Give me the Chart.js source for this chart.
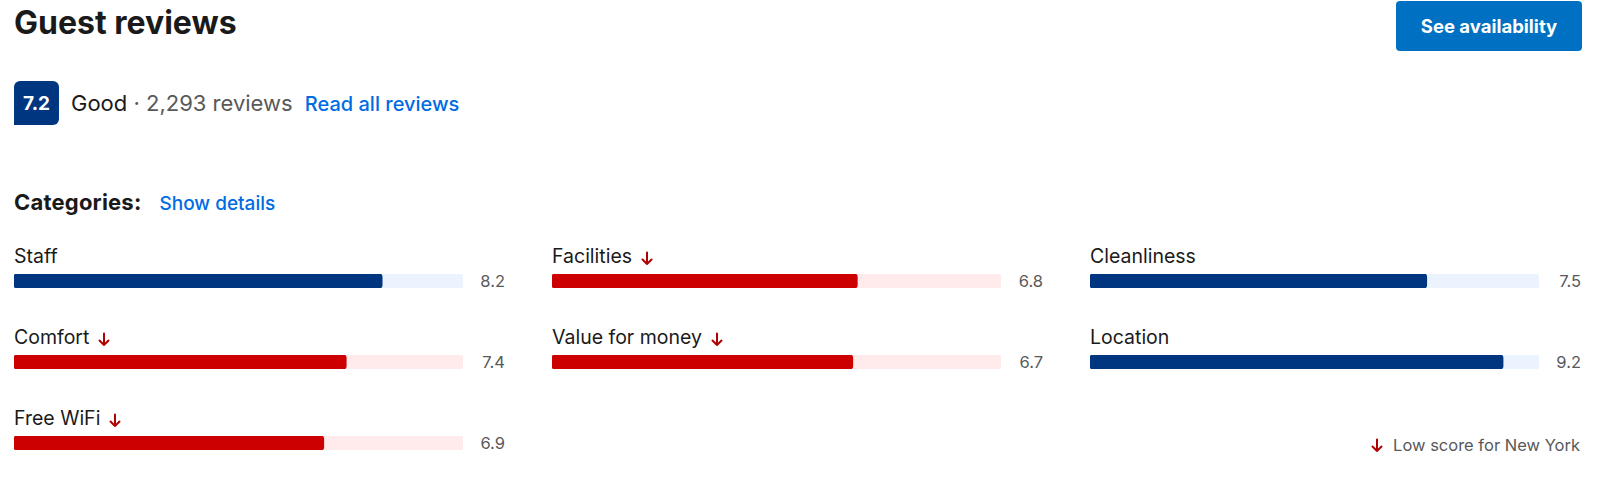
<!DOCTYPE html>
<html>
<head>
<meta charset="utf-8">
<script src="https://cdn.jsdelivr.net/npm/chart.js@4"></script>
<style>
  html, body { margin: 0; padding: 0; background: #fff; }
  body { width: 1600px; height: 494px; position: relative; overflow: hidden;
         font-family: Inter, "Noto Sans", Roboto, sans-serif; color: #1a1a1a; }
  .abs { position: absolute; line-height: 1; white-space: nowrap; }
  #title { left: 14px; top: 7px; font-size: 32px; font-weight: 700; }
  #btn { left: 1396px; top: 1px; width: 186px; height: 50px; background: #0071c2; border-radius: 4px;
         color: #fff; font-size: 18.5px; font-weight: 700; display: flex; align-items: center; justify-content: center; }
  #badge { left: 14px; top: 81px; width: 45px; height: 44px; background: #003580; color: #fff;
           border-radius: 6px 6px 6px 0; font-size: 19px; font-weight: 700;
           display: flex; align-items: center; justify-content: center; }
  #summary { left: 71px; top: 92px; font-size: 22px; }
  #summary .muted { color: #595959; }
  .link { color: #006ce4; font-weight: 500; }
  #summary .link { font-size: 20px; margin-left: 6px; }
  #catHead { left: 14px; top: 191px; font-size: 22px; font-weight: 700; letter-spacing: 0.2px; }
  #catHead .link { font-size: 19px; margin-left: 18px; letter-spacing: 0; }
  .label { font-size: 19.5px; }
  .value { font-size: 16.5px; color: #595959; text-align: right; width: 40px; }
  .arrow { display: inline-block; vertical-align: -3px; margin-left: 9px; }
  #footer { right: 20px; top: 437px; font-size: 16.5px; color: #595959; }
  #footer .arrow { margin-left: 0; margin-right: 10px; vertical-align: -2px; }
  canvas { position: absolute; }
</style>
</head>
<body>
<div id="title" class="abs">Guest reviews</div>
<div id="btn" class="abs">See availability</div>
<div id="badge" class="abs"></div>
<div id="summary" class="abs"></div>
<div id="catHead" class="abs">Categories:<span class="link">Show details</span></div>
<div id="footer" class="abs"></div>
<script>
// review data
const overallScore = 7.2;
const overallWord = "Good";
const reviewCount = "2,293";
const categories = ["Staff", "Facilities", "Cleanliness", "Comfort", "Value for money", "Location", "Free WiFi"];
const scores = [8.2, 6.8, 7.5, 7.4, 6.7, 9.2, 6.9];
const lowScore = [false, true, false, true, true, false, true];
const scoreMax = 10;

const BLUE = "#003580", BLUE_TRACK = "#ebf3ff";
const RED = "#cc0000", RED_TRACK = "#ffebeb";
const ARROW_RED = "#b00000";

const COL_X = [14, 552, 1090];
const ROW_Y = [274, 355, 436];
const TRACK_W = 449, BAR_H = 14;

function arrowSvg() {
  return '<svg class="arrow" width="12" height="15" viewBox="0 0 12 15">' +
    '<path d="M6 1.5 V13 M1.5 8.5 L6 13 L10.5 8.5" fill="none" stroke="' + ARROW_RED +
    '" stroke-width="2" stroke-linecap="round" stroke-linejoin="round"/></svg>';
}

document.getElementById("badge").textContent = overallScore.toFixed(1);
document.getElementById("summary").innerHTML = overallWord +
  ' <span class="muted">· ' + reviewCount + ' reviews</span> <span class="link">Read all reviews</span>';
document.getElementById("footer").innerHTML = arrowSvg() + "Low score for New York";

categories.forEach((name, i) => {
  const col = i % 3, row = Math.floor(i / 3);
  const x = COL_X[col], y = ROW_Y[row];
  const low = lowScore[i];

  const label = document.createElement("div");
  label.className = "abs label";
  label.style.left = x + "px";
  label.style.top = (y - 27) + "px";
  label.innerHTML = name + (low ? arrowSvg() : "");
  document.body.appendChild(label);

  const val = document.createElement("div");
  val.className = "abs value";
  val.style.left = (x + TRACK_W + 2) + "px";
  val.style.top = (y - 1) + "px";
  val.textContent = scores[i].toFixed(1);
  document.body.appendChild(val);

  const canvas = document.createElement("canvas");
  canvas.width = TRACK_W;
  canvas.height = BAR_H;
  canvas.style.left = x + "px";
  canvas.style.top = y + "px";
  document.body.appendChild(canvas);

  new Chart(canvas, {
    type: "bar",
    data: {
      labels: [name],
      datasets: [
        {
          data: [scores[i]],
          backgroundColor: low ? RED : BLUE,
          borderRadius: 3,
          borderSkipped: false,
          barPercentage: 1,
          categoryPercentage: 1,
          grouped: false,
          order: 0
        },
        {
          data: [scoreMax],
          backgroundColor: low ? RED_TRACK : BLUE_TRACK,
          borderRadius: 3,
          borderSkipped: false,
          barPercentage: 1,
          categoryPercentage: 1,
          grouped: false,
          order: 1
        }
      ]
    },
    options: {
      indexAxis: "y",
      responsive: false,
      animation: false,
      events: [],
      layout: { padding: 0 },
      plugins: { legend: { display: false }, tooltip: { enabled: false } },
      scales: {
        x: { display: false, min: 0, max: scoreMax },
        y: { display: false }
      }
    }
  });
});
</script>
</body>
</html>
